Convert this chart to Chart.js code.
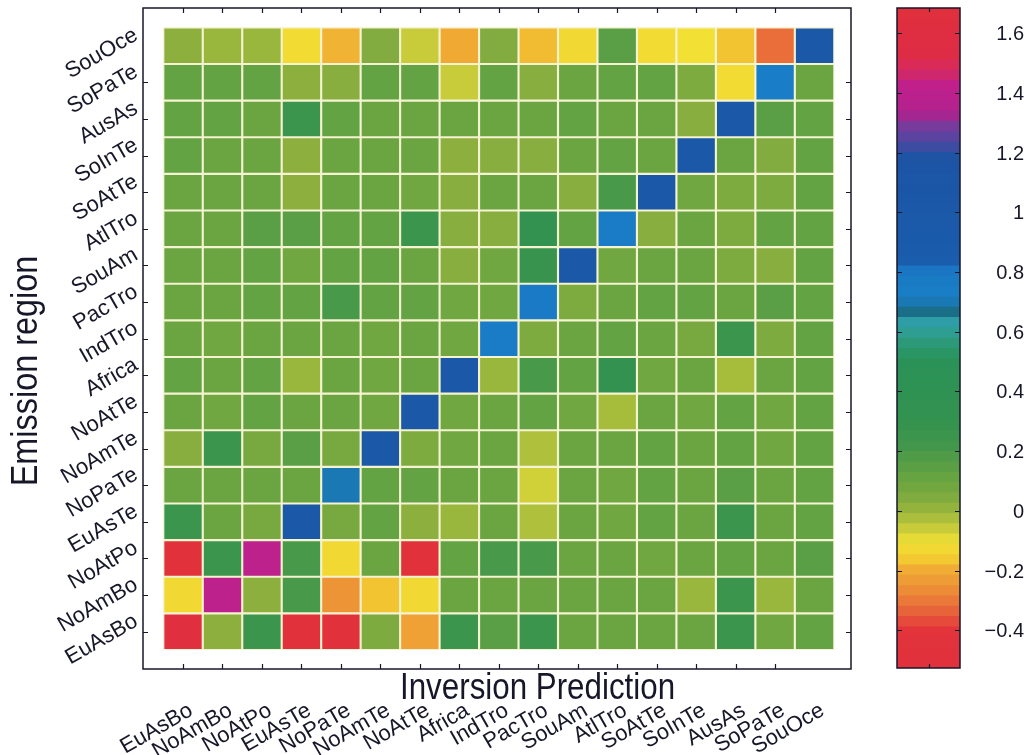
<!DOCTYPE html>
<html>
<head>
<meta charset="utf-8">
<script src="https://cdn.jsdelivr.net/npm/chart.js@4.4.1/dist/chart.umd.min.js"></script>
<style>
  html, body { margin: 0; padding: 0; background: #ffffff; width: 1030px; height: 755px; overflow: hidden; }
  #heat { position: absolute; left: 0; top: 0; }
  #scaleBar { position: absolute; left: 880px; top: 0; }
</style>
</head>
<body>
<canvas id="heat" width="880" height="755"></canvas>
<canvas id="scaleBar" width="150" height="755"></canvas>
<script>
// Region names, in axis order (bottom-to-top on y, left-to-right on x)
const regions = ['EuAsBo', 'NoAmBo', 'NoAtPo', 'EuAsTe', 'NoPaTe', 'NoAmTe', 'NoAtTe', 'Africa',
  'IndTro', 'PacTro', 'SouAm', 'AtlTro', 'SoAtTe', 'SoInTe', 'AusAs', 'SoPaTe', 'SouOce'];

// One row per emission region: predicted share in each inversion region (columns as in `regions`)
const EuAsBo = [1.65, 0.02, 0.25, -0.45, -0.45, 0.05, -0.22, 0.25, 0.15, 0.25, 0.1, 0.1, 0.1, 0.1, 0.25, 0.08, 0.12];
const NoAmBo = [-0.13, 1.4, 0.02, 0.2, -0.25, -0.17, -0.13, 0.1, 0.1, 0.1, 0.1, 0.1, 0.1, 0.0, 0.25, 0.0, 0.1];
const NoAtPo = [-0.45, 0.25, 1.4, 0.2, -0.13, 0.1, -0.45, 0.12, 0.2, 0.2, 0.1, 0.1, 0.08, 0.1, 0.12, 0.1, 0.15];
const EuAsTe = [0.25, 0.1, 0.06, 1.0, 0.06, 0.12, 0.02, 0.0, 0.1, -0.03, 0.1, 0.08, 0.12, 0.1, 0.25, 0.1, 0.12];
const NoPaTe = [0.1, 0.1, 0.1, 0.1, 0.7, 0.12, 0.12, 0.1, 0.1, -0.07, 0.1, 0.08, 0.12, 0.1, 0.15, 0.1, 0.12];
const NoAmTe = [0.03, 0.25, 0.06, 0.15, 0.06, 1.0, 0.05, 0.08, 0.1, -0.03, 0.1, 0.1, 0.12, 0.1, 0.12, 0.08, 0.12];
const NoAtTe = [0.1, 0.08, 0.12, 0.1, 0.1, 0.08, 1.0, 0.08, 0.1, 0.12, 0.08, -0.02, 0.1, 0.08, 0.12, 0.08, 0.12];
const Africa = [0.12, 0.1, 0.12, 0.0, 0.1, 0.08, 0.1, 1.0, 0.0, 0.2, 0.12, 0.3, 0.08, 0.1, -0.02, 0.1, 0.12];
const IndTro = [0.1, 0.08, 0.1, 0.1, 0.1, 0.08, 0.1, 0.08, 0.75, 0.05, 0.1, 0.12, 0.1, 0.06, 0.25, 0.05, 0.12];
const PacTro = [0.1, 0.1, 0.12, 0.12, 0.2, 0.12, 0.12, 0.08, 0.08, 0.78, 0.05, 0.1, 0.12, 0.12, 0.1, 0.15, 0.12];
const SouAm  = [0.1, 0.1, 0.12, 0.08, 0.12, 0.12, 0.1, 0.03, 0.08, 0.28, 1.0, 0.08, 0.1, 0.1, 0.05, 0.03, 0.12];
const AtlTro = [0.1, 0.1, 0.15, 0.15, 0.12, 0.12, 0.25, 0.03, 0.03, 0.3, 0.12, 0.76, 0.03, 0.1, 0.05, 0.12, 0.12];
const SoAtTe = [0.1, 0.1, 0.1, 0.02, 0.1, 0.1, 0.08, 0.03, 0.1, 0.1, 0.03, 0.2, 1.0, 0.08, 0.05, 0.05, 0.12];
const SoInTe = [0.12, 0.1, 0.1, 0.02, 0.1, 0.1, 0.1, 0.02, 0.03, 0.03, 0.1, 0.12, 0.1, 1.0, 0.1, 0.04, 0.12];
const AusAs  = [0.12, 0.12, 0.1, 0.25, 0.12, 0.1, 0.1, 0.1, 0.1, 0.1, 0.12, 0.1, 0.1, 0.03, 1.0, 0.15, 0.12];
const SoPaTe = [0.12, 0.12, 0.12, 0.02, 0.03, 0.12, 0.12, -0.06, 0.12, 0.03, 0.1, 0.12, 0.12, 0.05, -0.12, 0.74, 0.1];
const SouOce = [0.02, 0.0, 0.0, -0.12, -0.19, 0.04, -0.06, -0.2, 0.04, -0.18, -0.13, 0.15, -0.12, -0.11, -0.17, -0.32, 1.0];

const emissionRows = [EuAsBo, NoAmBo, NoAtPo, EuAsTe, NoPaTe, NoAmTe, NoAtTe, Africa,
  IndTro, PacTro, SouAm, AtlTro, SoAtTe, SoInTe, AusAs, SoPaTe, SouOce];

// Colour scale: value range and tick labels
const colorMin = -0.526;
const colorMax = 1.684;
const colorBands = 64;
const colorTicks = [-0.4, -0.2, 0, 0.2, 0.4, 0.6, 0.8, 1, 1.2, 1.4, 1.6];

// Colormap stops [value, colour]
const colorStops = [
  [-0.526, '#e0303c'], [-0.40, '#e2343a'], [-0.33, '#e8683a'], [-0.26, '#ec9036'],
  [-0.20, '#f0aa34'], [-0.16, '#f2cc30'], [-0.11, '#f2e034'], [-0.06, '#c8cc3a'],
  [-0.02, '#a6bd3c'], [0.02, '#8caf3e'], [0.06, '#78a940'], [0.10, '#6aa541'],
  [0.16, '#579e46'], [0.22, '#42974c'], [0.30, '#33924f'], [0.50, '#2a9256'],
  [0.56, '#2c9a78'], [0.62, '#30a0a4'], [0.655, '#2a96a8'], [0.665, '#1a6e88'],
  [0.69, '#1a70a0'], [0.71, '#1a80c8'], [0.80, '#1a78c4'], [0.84, '#1a5cac'],
  [1.18, '#1c54a4'], [1.23, '#4848a0'], [1.29, '#7a3a9c'], [1.33, '#b0228e'],
  [1.43, '#c2208a'], [1.47, '#d42a62'], [1.52, '#de2c46'], [1.684, '#e0303c']
];

const FONT = '"Liberation Sans", Arial, Helvetica, sans-serif';
const INK = '#17172a';

function hexRgb(h) {
  const n = parseInt(h.slice(1), 16);
  return [(n >> 16) & 255, (n >> 8) & 255, n & 255];
}

function colorAt(v) {
  const s = colorStops;
  if (v <= s[0][0]) return s[0][1];
  if (v >= s[s.length - 1][0]) return s[s.length - 1][1];
  for (let i = 0; i < s.length - 1; i++) {
    const [v0, c0] = s[i], [v1, c1] = s[i + 1];
    if (v >= v0 && v <= v1) {
      const t = (v - v0) / (v1 - v0);
      const a = hexRgb(c0), b = hexRgb(c1);
      const m = a.map((q, k) => Math.round(q + (b[k] - q) * t));
      return `rgb(${m[0]},${m[1]},${m[2]})`;
    }
  }
  return s[0][1];
}

// ---------- heat map: each cell is a floating bar spanning one row ----------
const heatDatasets = emissionRows.map((vals, r) => ({
  label: regions[r],
  data: vals.map((v, c) => ({ x: c, y: [r - 0.5, r + 0.5] })),
  backgroundColor: vals.map(colorAt),
  borderColor: '#f6f3d2',
  borderWidth: 1.4,
  borderSkipped: false,
  grouped: false,
  barPercentage: 1,
  categoryPercentage: 1
}));

const heatFrame = {
  id: 'heatFrame',
  afterDraw(chart) {
    const { ctx, chartArea: a, scales: { x, y } } = chart;
    ctx.save();
    ctx.strokeStyle = INK;
    ctx.lineWidth = 1.5;
    ctx.strokeRect(a.left, a.top, a.right - a.left, a.bottom - a.top);

    // inward ticks on all four sides
    ctx.lineWidth = 1.2;
    const tickLen = 5;
    regions.slice(0, -1).forEach((_, i) => {
      const px = Math.round(x.getPixelForValue(i)) + 0.5;
      const py = Math.round(y.getPixelForValue(i)) + 0.5;
      ctx.beginPath();
      ctx.moveTo(px, a.bottom); ctx.lineTo(px, a.bottom - tickLen);
      ctx.moveTo(px, a.top); ctx.lineTo(px, a.top + tickLen);
      ctx.moveTo(a.left, py); ctx.lineTo(a.left + tickLen, py);
      ctx.moveTo(a.right, py); ctx.lineTo(a.right - tickLen, py);
      ctx.stroke();
    });

    // slanted category labels
    ctx.fillStyle = INK;
    ctx.font = `22px ${FONT}`;
    ctx.textAlign = 'right';
    ctx.textBaseline = 'middle';
    regions.forEach((name, i) => {
      ctx.save();
      ctx.translate(x.getPixelForValue(i) + 8, a.bottom + 40);
      ctx.rotate(-Math.PI / 6);
      ctx.fillText(name, 0, 0);
      ctx.restore();

      ctx.save();
      ctx.translate(a.left - 7, y.getPixelForValue(i) - 12);
      ctx.rotate(-Math.PI / 6);
      ctx.fillText(name, 0, 0);
      ctx.restore();
    });

    // axis titles
    ctx.font = `36px ${FONT}`;
    ctx.textAlign = 'left';
    ctx.textBaseline = 'alphabetic';
    ctx.save();
    ctx.translate(400, 699);
    ctx.scale(0.87, 1);
    ctx.fillText('Inversion Prediction', 0, 0);
    ctx.restore();

    ctx.save();
    ctx.translate(37, 371);
    ctx.rotate(-Math.PI / 2);
    ctx.scale(0.9, 1);
    ctx.textAlign = 'center';
    ctx.fillText('Emission region', 0, 0);
    ctx.restore();

    ctx.restore();
  }
};

new Chart(document.getElementById('heat'), {
  type: 'bar',
  data: { datasets: heatDatasets },
  options: {
    responsive: false,
    animation: false,
    devicePixelRatio: 1,
    layout: { padding: { left: 143, right: 29, top: 8, bottom: 86 } },
    plugins: { legend: { display: false }, tooltip: { enabled: false } },
    scales: {
      x: { type: 'linear', display: false, min: -1.014, max: 16.923, offset: false,
           ticks: { includeBounds: false, stepSize: 1 } },
      y: { type: 'linear', display: false, min: -1.019, max: 17.03 }
    }
  },
  plugins: [heatFrame]
});

// ---------- colour bar ----------
// Band k spans from the bottom of the scale up to its own upper edge; the
// lower bands sit on top (dataset 0 is painted last), leaving each band's
// own slice visible without seams.
const bandSize = (colorMax - colorMin) / colorBands;
const bandDatasets = [];
for (let k = 0; k < colorBands; k++) {
  const lo = colorMin + k * bandSize;
  bandDatasets.push({
    data: [[colorMin, lo + bandSize]],
    backgroundColor: colorAt(lo + bandSize / 2),
    borderWidth: 0,
    grouped: false,
    barPercentage: 1,
    categoryPercentage: 1
  });
}

const barFrame = {
  id: 'barFrame',
  afterDraw(chart) {
    const { ctx, chartArea: a, scales: { y } } = chart;
    ctx.save();
    ctx.strokeStyle = INK;
    ctx.lineWidth = 1.5;
    ctx.strokeRect(a.left, a.top, a.right - a.left, a.bottom - a.top);
    ctx.lineWidth = 1.2;
    const mid = Math.round((a.left + a.right) / 2) + 0.5;
    ctx.beginPath();
    ctx.moveTo(mid, a.top); ctx.lineTo(mid, a.top + 4);
    ctx.moveTo(mid, a.bottom); ctx.lineTo(mid, a.bottom - 4);
    ctx.stroke();

    ctx.fillStyle = INK;
    ctx.font = `20px ${FONT}`;
    ctx.textAlign = 'right';
    ctx.textBaseline = 'middle';
    colorTicks.forEach(v => {
      const py = Math.round(y.getPixelForValue(v)) + 0.5;
      ctx.beginPath();
      ctx.moveTo(a.left, py); ctx.lineTo(a.left + 5, py);
      ctx.moveTo(a.right, py); ctx.lineTo(a.right - 5, py);
      ctx.stroke();
      const txt = (v < 0 ? '\u2212' : '') + String(Math.abs(v));
      ctx.fillText(txt, 144, py + 1);
    });
    ctx.restore();
  }
};

new Chart(document.getElementById('scaleBar'), {
  type: 'bar',
  data: { labels: [''], datasets: bandDatasets },
  options: {
    responsive: false,
    animation: false,
    devicePixelRatio: 1,
    layout: { padding: { left: 17, right: 70, top: 8, bottom: 87 } },
    plugins: { legend: { display: false }, tooltip: { enabled: false } },
    scales: {
      x: { display: false },
      y: { type: 'linear', display: false, min: colorMin, max: colorMax }
    }
  },
  plugins: [barFrame]
});
</script>
</body>
</html>
